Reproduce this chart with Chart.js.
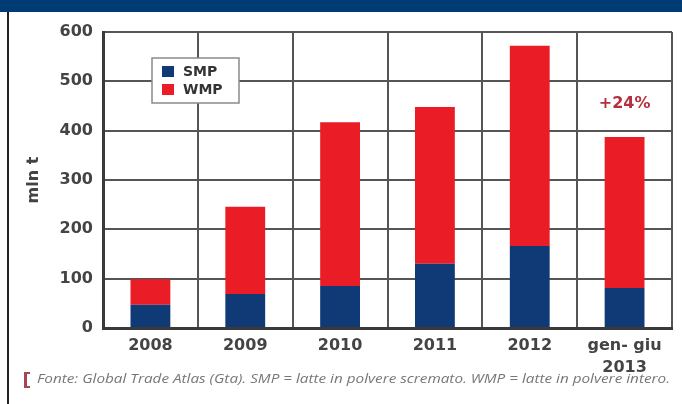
<!DOCTYPE html>
<html lang="it">
  <head>
    <title>SMP / WMP</title>
    <style>
      body { margin: 0; background: #fff; }
      #wrap { position: relative; width: 682px; height: 404px; overflow: hidden; }
      #banner { position: absolute; left: 0; top: 0; width: 682px; height: 12px; background: #003b73; }
      #edge { position: absolute; left: 7px; top: 12px; width: 2px; height: 392px; background: #222; }
      #chart { position: absolute; left: 0; top: 0; }
    </style>
  </head>
  <body>
    <div id="wrap">
      <div id="banner"></div>
      <div id="edge"></div>
      <canvas id="chart" width="682" height="404"></canvas>
    </div>
    <script src="https://cdn.jsdelivr.net/npm/chart.js"></script>
    <script>
      // values (mln t)
      let categories = ["2008", "2009", "2010", "2011", "2012", ["gen- giu", "2013"]];
      let smp = [47, 69, 85, 130, 166, 81];
      let wmp = [52, 177, 332, 318, 406, 306];
      let yTicks = [0, 100, 200, 300, 400, 500, 600];
      let growthNote = "+24%";
      let growthAt = { index: 5, value: 455 };
      let source = "Fonte: Global Trade Atlas (Gta). SMP = latte in polvere scremato. WMP = latte in polvere intero.";

      let navy = "#103a76";
      let red = "#ea1d26";
      let font = "DejaVu Sans";

      // white legend box inside the plot
      let boxLegend = {
        id: "boxLegend",
        afterDatasetsDraw: function (chart) {
          let ctx = chart.ctx;
          ctx.save();
          ctx.fillStyle = "#fff";
          ctx.strokeStyle = "#8a8a8a";
          ctx.lineWidth = 1.5;
          ctx.fillRect(152, 58, 87, 45);
          ctx.strokeRect(152, 58, 87, 45);
          ctx.font = "bold 14px '" + font + "'";
          ctx.textBaseline = "middle";
          chart.data.datasets.forEach(function (ds, i) {
            let y = 72 + i * 18;
            ctx.fillStyle = ds.backgroundColor;
            ctx.fillRect(162, y - 6, 12, 11);
            ctx.fillStyle = "#333";
            ctx.fillText(ds.label, 183, y);
          });

          // growth note
          let x = chart.scales.x.getPixelForValue(growthAt.index);
          let yy = chart.scales.y.getPixelForValue(growthAt.value);
          ctx.font = "bold 16px '" + font + "'";
          ctx.fillStyle = "#b3303f";
          ctx.textAlign = "center";
          ctx.fillText(growthNote, x, yy);
          ctx.restore();
        },
        afterDraw: function (chart) {
          let ctx = chart.ctx;
          ctx.save();
          ctx.fillStyle = "#a84550";
          ctx.fillRect(24, 372, 3, 16);
          ctx.fillRect(24, 372, 6, 2);
          ctx.fillRect(24, 386, 6, 2);
          ctx.font = "italic 12px 'Open Sans'";
          ctx.fillStyle = "#777";
          ctx.textBaseline = "middle";
          let w = ctx.measureText(source).width;
          ctx.translate(37, 380);
          ctx.scale(633 / w, 1);
          ctx.fillText(source, 0, 0);
          ctx.restore();
        },
      };

      new Chart(document.getElementById("chart"), {
        type: "bar",
        data: {
          labels: categories,
          datasets: [
            { label: "SMP", data: smp, backgroundColor: navy },
            { label: "WMP", data: wmp, backgroundColor: red },
          ],
        },
        options: {
          responsive: false,
          animation: false,
          layout: { padding: { left: 0, right: 10, top: 32, bottom: 0 } },
          datasets: { bar: { categoryPercentage: 1, barPercentage: 0.42 } },
          plugins: { legend: { display: false }, tooltip: { enabled: false } },
          scales: {
            x: {
              stacked: true,
              afterFit: function (scale) { scale.height = 76; },
              grid: { color: "#555", lineWidth: 2, drawTicks: false },
              border: { color: "#3a3a3a", width: 3 },
              ticks: {
                color: "#444",
                padding: 7,
                maxRotation: 0,
                font: { family: font, size: 16, weight: "bold", lineHeight: 1.35 },
              },
            },
            y: {
              stacked: true,
              min: 0,
              max: 600,
              afterFit: function (scale) { scale.width = 103; },
              afterBuildTicks: function (scale) {
                scale.ticks = yTicks.map(function (v) { return { value: v }; });
              },
              grid: { color: "#555", lineWidth: 2, drawTicks: false },
              border: { color: "#3a3a3a", width: 3 },
              ticks: {
                color: "#444",
                padding: 10,
                font: { family: font, size: 16, weight: "bold" },
              },
              title: {
                display: true,
                text: "mln t",
                color: "#444",
                padding: { top: 24, bottom: 0 },
                font: { family: font, size: 16, weight: "bold", lineHeight: 1.2 },
              },
            },
          },
        },
        plugins: [boxLegend],
      });
    </script>
  </body>
</html>
